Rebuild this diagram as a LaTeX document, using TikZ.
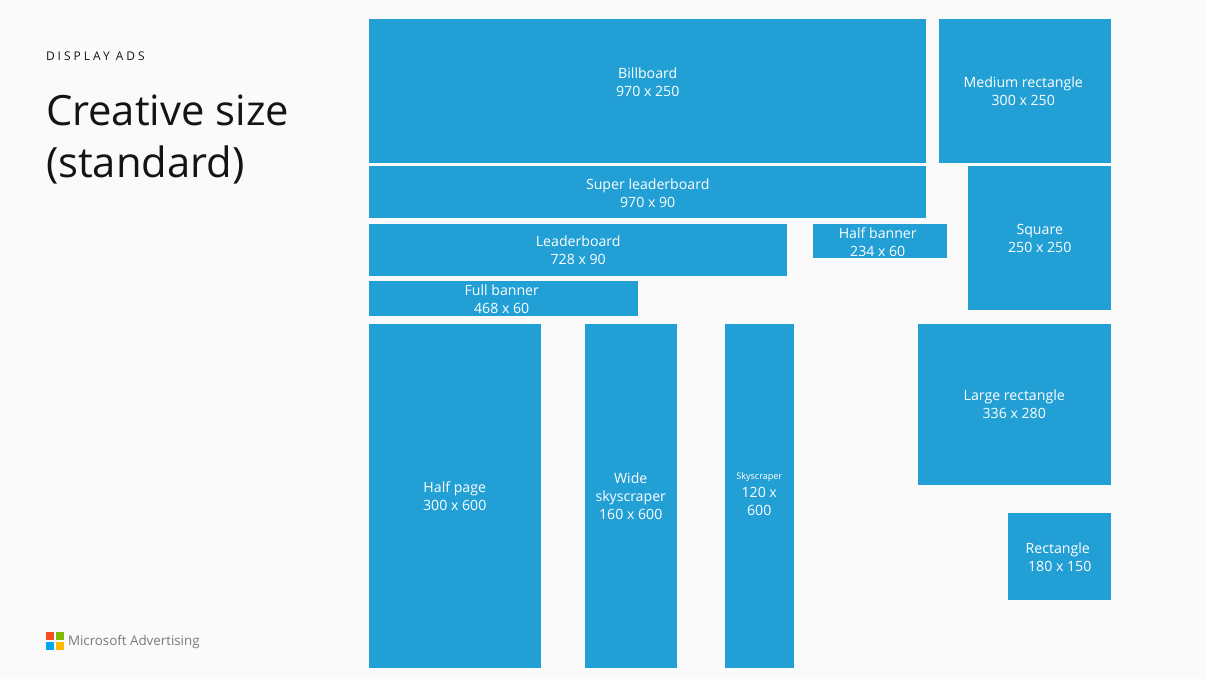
\documentclass[tikz,border=0pt]{standalone}
\usepackage{fontspec}
\setmainfont{Open Sans}
\newfontfamily\spacedfont[LetterSpace=25]{Open Sans}
\usetikzlibrary{positioning}
\definecolor{adblue}{HTML}{22A0D5}
\definecolor{pagegray}{HTML}{FAFAFA}
\definecolor{inkblack}{HTML}{141414}
\definecolor{logogray}{HTML}{7A7A7A}
\definecolor{msred}{HTML}{F25022}
\definecolor{msgreen}{HTML}{7FBA00}
\definecolor{msblue}{HTML}{00A4EF}
\definecolor{msyellow}{HTML}{FFB900}

\begin{document}
\begin{tikzpicture}[
        x=0.75pt,
        y=-0.75pt,
        adbox/.style 2 args={
            fill=adblue, draw=none, inner sep=0pt, anchor=north west,
            minimum width=#1*0.75pt, minimum height=#2*0.75pt
        },
        adtext/.style={
            text=white, align=center, inner sep=0pt,
            font=\fontsize{10.6}{13.5}\selectfont
        },
        logotile/.style={inner sep=0pt, minimum size=6.2pt, anchor=north west}
    ]
    \node[fill=pagegray, inner sep=0pt, anchor=north west, minimum width=904.5pt, minimum height=509.25pt] (page) at (0,0) {};

    % left column
    \node[anchor=west, inner sep=0pt, text=inkblack, font=\fontsize{9}{10}\spacedfont] (kicker) at (46,56) {DISPLAY ADS};
    \node[anchor=north west, inner sep=0pt, text=inkblack, align=left, font=\fontsize{31.3}{39.5}\selectfont] (title) at (46,94.5) {Creative size\\(standard)};

    % top rows
    \node[adbox={557}{143.5}] (billboard) at (369,19) {};
    \node[adbox={172}{143.5}] (medium) at (939,19) {};
    \node[adbox={557}{51.5}] (super) at (369,166) {};
    \node[adbox={143}{143.5}] (square) at (968,166) {};
    \node[adbox={418}{51.5}] (leaderboard) at (369,224) {};
    \node[adbox={134}{34}] (halfbanner) at (813,224) {};
    \node[adbox={269}{35}] (fullbanner) at (369,281) {};

    % bottom rows
    \node[adbox={172}{344}] (halfpage) at (369,324) {};
    \node[adbox={92}{344}] (wide) at (585,324) {};
    \node[adbox={69}{344}] (skyscraper) at (725,324) {};
    \node[adbox={193}{160.5}] (large) at (918,324) {};
    \node[adbox={103}{86.5}] (rectangle) at (1008,513) {};

    % box labels
    \node[adtext] (billboardtext) at (648,82.5) {Billboard\\970 x 250};
    \node[adtext] (mediumtext) at (1023.5,91.5) {Medium rectangle\\300 x 250};
    \node[adtext] (supertext) at (648,193.5) {Super leaderboard\\970 x 90};
    \node[adtext] (squaretext) at (1040,238.5) {Square\\250 x 250};
    \node[adtext] (leaderboardtext) at (578.5,250.5) {Leaderboard\\728 x 90};
    \node[adtext] (halfbannertext) at (878,242.5) {Half banner\\234 x 60};
    \node[adtext] (fullbannertext) at (502,299.5) {Full banner\\468 x 60};
    \node[adtext] (halfpagetext) at (455,496.5) {Half page\\300 x 600};
    \node[adtext] (widetext) at (631,496.5) {Wide\\skyscraper\\160 x 600};
    \node[adtext] (skyscrapertext) at (759.5,494.5) {{\fontsize{6.8}{13.5}\selectfont Skyscraper}\\120 x\\600};
    \node[adtext] (largetext) at (1014.5,404.5) {Large rectangle\\336 x 280};
    \node[adtext] (rectangletext) at (1058,557.5) {Rectangle\\\hspace*{3pt}180 x 150};

    % logo
    \node[logotile, fill=msred] (tilea) at (46,632) {};
    \node[logotile, fill=msgreen] (tileb) at (55.5,632) {};
    \node[logotile, fill=msblue] (tilec) at (46,641.5) {};
    \node[logotile, fill=msyellow] (tiled) at (55.5,641.5) {};
    \node[anchor=west, inner sep=0pt, text=logogray, font=\fontsize{10}{12}\selectfont] (logotext) at (68,642) {Microsoft Advertising};
\end{tikzpicture}
\end{document}
